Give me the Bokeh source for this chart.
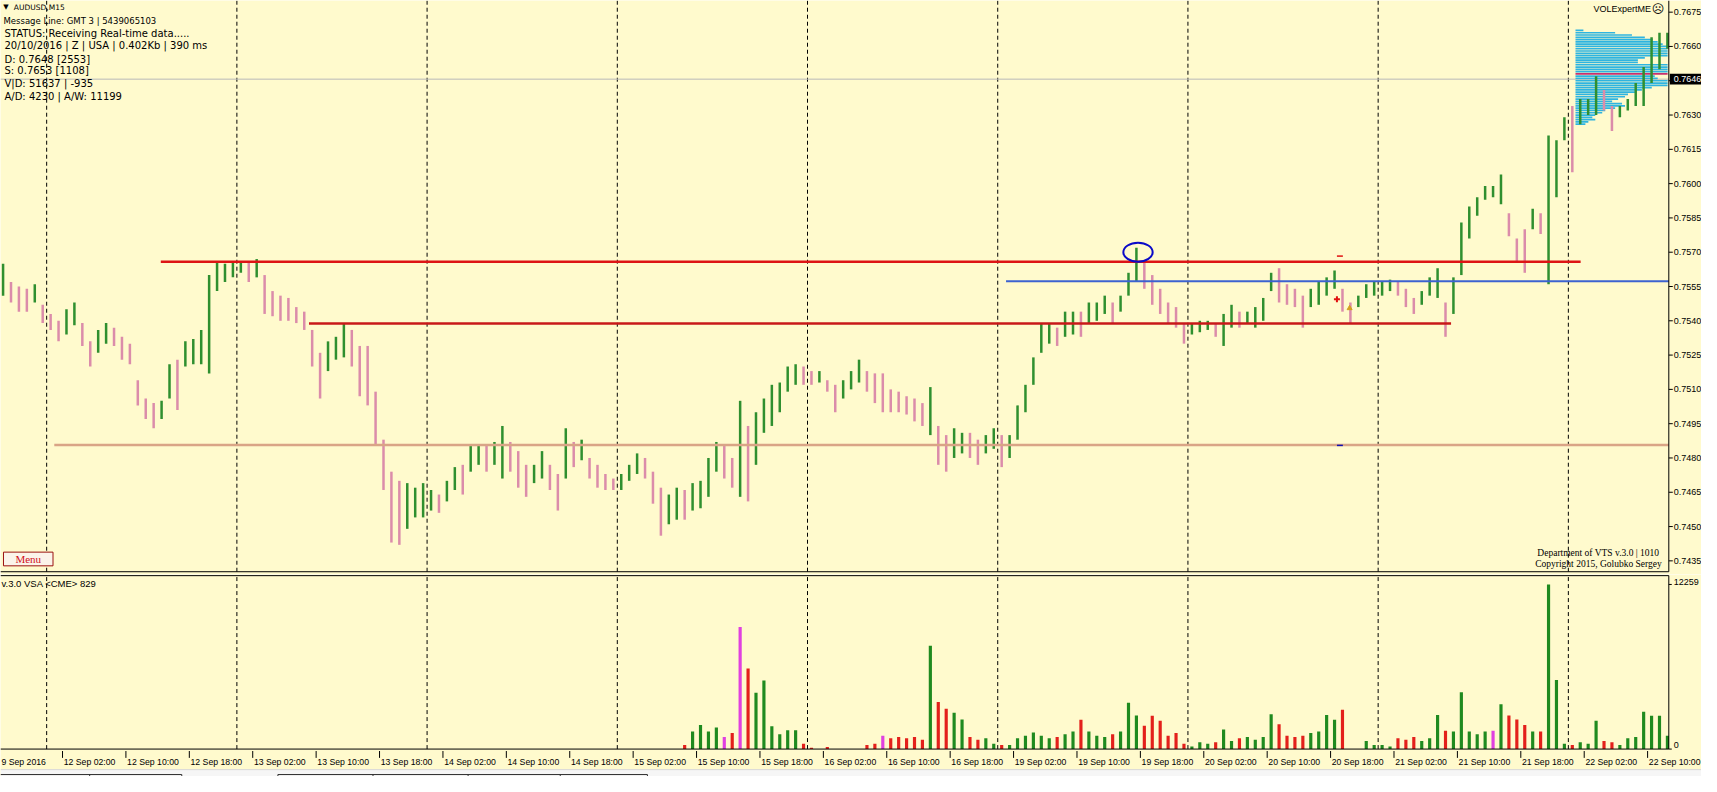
from bokeh.plotting import figure
from bokeh.layouts import column
from bokeh.models import Range1d
from bokeh.embed import file_html
from bokeh.resources import INLINE
from bokeh.core.properties import value

# ---------------- data (AUDUSD M15) ----------------
FIRST_HOUR = -6   # hours from 12 Sep 00:00 (weekend removed)
highs = [0.7565, 0.7557, 0.7555, 0.7554, 0.7556, 0.7547,
         0.7543, 0.7540, 0.7545, 0.7548, 0.7539, 0.7531, 0.7536, 0.7539, 0.7537, 0.7533,
         0.7530, 0.7514, 0.7506, 0.7504, 0.7505, 0.7521, 0.7523, 0.7531, 0.7532, 0.7536,
         0.7560, 0.7566, 0.7565, 0.7566, 0.7566, 0.7566, 0.7567, 0.7560, 0.7553, 0.7551,
         0.7550, 0.7546, 0.7544, 0.7536, 0.7526, 0.7531, 0.7533, 0.7539, 0.7536, 0.7529,
         0.7529, 0.7509, 0.7488, 0.7474, 0.7470, 0.7469, 0.7467, 0.7469, 0.7466, 0.7464,
         0.7470, 0.7476, 0.7477, 0.7486, 0.7486, 0.7486, 0.7487, 0.7494, 0.7487, 0.7483,
         0.7477, 0.7477, 0.7483, 0.7477, 0.7473, 0.7493, 0.7487, 0.7488, 0.7480, 0.7477,
         0.7473, 0.7471, 0.7473, 0.7477, 0.7482, 0.7480, 0.7474, 0.7467, 0.7464, 0.7467,
         0.7466, 0.7469, 0.7470, 0.7480, 0.7487, 0.7486, 0.7480, 0.7505, 0.7494, 0.7500,
         0.7506, 0.7512, 0.7513, 0.7520, 0.7521, 0.7520, 0.7518, 0.7518, 0.7514, 0.7512,
         0.7514, 0.7518, 0.7523, 0.7518, 0.7517, 0.7517, 0.7510, 0.7509, 0.7507, 0.7506,
         0.7504, 0.7511, 0.7494, 0.7490, 0.7493, 0.7491, 0.7491, 0.7488, 0.7490, 0.7493,
         0.7490, 0.7490, 0.7503, 0.7512, 0.7524, 0.7539, 0.7539, 0.7537, 0.7544, 0.7544,
         0.7544, 0.7548, 0.7548, 0.7551, 0.7548, 0.7551, 0.7561, 0.7572, 0.7566, 0.7560,
         0.7554, 0.7548, 0.7546, 0.7539, 0.7539, 0.7540, 0.7540, 0.7539, 0.7543, 0.7547,
         0.7544, 0.7544, 0.7546, 0.7550, 0.7561, 0.7563, 0.7556, 0.7554, 0.7551, 0.7554,
         0.7557, 0.7559, 0.7562, 0.7554, 0.7548, 0.7551, 0.7556, 0.7557, 0.7557, 0.7558,
         0.7557, 0.7554, 0.7550, 0.7553, 0.7559, 0.7563, 0.7548, 0.7559, 0.7583, 0.7590,
         0.7594, 0.7599, 0.7599, 0.7604, 0.7587, 0.7576, 0.7580, 0.7589, 0.7587, 0.7621,
         0.7619, 0.7629, 0.7634, 0.7637, 0.7637, 0.7647, 0.7641, 0.7634, 0.7634, 0.7637,
         0.7644, 0.7651, 0.7664, 0.7666, 0.7666]
lows = [0.7551, 0.7548, 0.7544, 0.7544, 0.7548, 0.7539,
        0.7536, 0.7531, 0.7534, 0.7538, 0.7529, 0.7520, 0.7526, 0.7530, 0.7529, 0.7523,
        0.7521, 0.7503, 0.7497, 0.7493, 0.7497, 0.7506, 0.7501, 0.7520, 0.7521, 0.7521,
        0.7517, 0.7553, 0.7557, 0.7559, 0.7561, 0.7557, 0.7559, 0.7543, 0.7542, 0.7540,
        0.7540, 0.7539, 0.7536, 0.7520, 0.7506, 0.7518, 0.7523, 0.7524, 0.7520, 0.7507,
        0.7503, 0.7486, 0.7466, 0.7443, 0.7442, 0.7449, 0.7454, 0.7454, 0.7457, 0.7456,
        0.7461, 0.7466, 0.7464, 0.7474, 0.7477, 0.7474, 0.7477, 0.7471, 0.7474, 0.7467,
        0.7463, 0.7469, 0.7471, 0.7466, 0.7457, 0.7471, 0.7476, 0.7479, 0.7471, 0.7467,
        0.7466, 0.7466, 0.7466, 0.7470, 0.7473, 0.7471, 0.7460, 0.7446, 0.7451, 0.7453,
        0.7453, 0.7457, 0.7458, 0.7463, 0.7474, 0.7471, 0.7467, 0.7463, 0.7461, 0.7477,
        0.7491, 0.7494, 0.7500, 0.7509, 0.7512, 0.7512, 0.7512, 0.7513, 0.7509, 0.7500,
        0.7506, 0.7510, 0.7513, 0.7509, 0.7504, 0.7500, 0.7500, 0.7500, 0.7499, 0.7496,
        0.7494, 0.7490, 0.7477, 0.7474, 0.7480, 0.7482, 0.7480, 0.7477, 0.7482, 0.7484,
        0.7476, 0.7480, 0.7488, 0.7500, 0.7512, 0.7526, 0.7530, 0.7529, 0.7533, 0.7534,
        0.7533, 0.7539, 0.7540, 0.7543, 0.7539, 0.7544, 0.7551, 0.7557, 0.7554, 0.7547,
        0.7543, 0.7539, 0.7537, 0.7530, 0.7534, 0.7535, 0.7536, 0.7533, 0.7529, 0.7537,
        0.7537, 0.7539, 0.7537, 0.7540, 0.7553, 0.7548, 0.7547, 0.7546, 0.7537, 0.7546,
        0.7547, 0.7551, 0.7554, 0.7544, 0.7539, 0.7546, 0.7550, 0.7551, 0.7551, 0.7553,
        0.7551, 0.7546, 0.7543, 0.7547, 0.7551, 0.7550, 0.7533, 0.7543, 0.7560, 0.7576,
        0.7586, 0.7593, 0.7594, 0.7591, 0.7577, 0.7566, 0.7561, 0.7580, 0.7578, 0.7556,
        0.7594, 0.7619, 0.7605, 0.7626, 0.7630, 0.7630, 0.7632, 0.7623, 0.7629, 0.7632,
        0.7634, 0.7634, 0.7644, 0.7650, 0.7659]

VOL_FIRST_HOUR = 80
volumes = [300, 1300, 1800, 1300, 1600, 900, 1200, 9100, 6000, 4200,
           5100, 1700, 1100, 1400, 1400, 400, 100, 0, 150, 0,
           0, 0, 0, 300, 400, 1000, 800, 900, 800, 900,
           700, 7700, 3500, 3000, 2700, 2200, 900, 700, 800, 400,
           300, 300, 800, 1000, 1240, 1000, 800, 900, 1100, 1300,
           2190, 1300, 1000, 900, 1100, 1300, 3450, 2500, 1730, 2480,
           2110, 1000, 1200, 400, 200, 500, 400, 500, 1460, 600,
           800, 900, 700, 900, 2600, 1850, 1000, 900, 1000, 1200,
           1300, 2540, 2190, 2920, 0, 0, 600, 300, 300, 200,
           800, 700, 900, 600, 800, 2540, 1360, 1300, 4230, 1300,
           1100, 1300, 1360, 3330, 2500, 2200, 1800, 1300, 1300, 12259,
           5140, 400, 300, 500, 400, 2110, 600, 500, 300, 800,
           900, 2780, 2480, 2480, 1000]
magenta_hours = [85, 87, 105, 182]

price_ticks = [0.7435, 0.7450, 0.7465, 0.7480, 0.7495, 0.7510, 0.7525, 0.7540, 0.7555,
               0.7570, 0.7585, 0.7600, 0.7615, 0.7630, 0.7645, 0.7660, 0.7675]
vol_ticks = [0, 12259]
days = ["12 Sep", "13 Sep", "14 Sep", "15 Sep", "16 Sep", "19 Sep", "20 Sep", "21 Sep", "22 Sep"]
label_times = ["02:00", "10:00", "18:00"]
first_label = "9 Sep 2016"

# drawn objects (levels / lines)
level_prices = [0.75658, 0.75388, 0.75573, 0.74857]
level_from = [14.4, 33.1, 121.05, 0.96]
level_to = [193.55, 177.2, 215.0, 215.0]
level_colors = ["#dd1414", "#c81818", "#3c62d0", "#d9a486"]
level_widths = [2.5, 2.5, 1.8, 2.5]
bid_price = 0.76457
bid_text = "0.7646"
circle_hour, circle_price = 137.7, 0.7570

profile_prices = [0.7667, 0.7666, 0.7665, 0.7664, 0.7663, 0.7662, 0.7661, 0.7660, 0.7659, 0.7658,
                  0.7657, 0.7656, 0.7655, 0.7654, 0.7653, 0.7652, 0.7651, 0.7650, 0.7649, 0.7648,
                  0.7647, 0.7646, 0.7645, 0.7644, 0.7643, 0.7642, 0.7641, 0.7640, 0.7639, 0.7638,
                  0.7637, 0.7636, 0.7635, 0.7634, 0.7633, 0.7632, 0.7631, 0.7630, 0.7629, 0.7628,
                  0.7627, 0.7626]
profile_vol = [8, 40, 57, 70, 78, 83, 88, 93, 93, 93,
               93, 93, 70, 63, 63, 93, 93, 93, 93, 93,
               80, 83, 93, 93, 93, 77, 67, 60, 53, 50,
               43, 37, 47, 50, 40, 30, 27, 20, 17, 20,
               13, 10]
profile_poc = 0.7648
profile_start_hour = 192.9

assert len(highs) == len(lows) == 211
assert len(volumes) == 125
assert len(profile_prices) == len(profile_vol)

# ---------------- style / layout helpers ----------------
BG = "#FFFACD"
GREEN = "#2f8f2f"
PINK = "#db8caa"
VGREEN = "#1f8a1f"
VRED = "#e3201b"
VMAG = "#e040e0"
SANS = value("Liberation Sans")
MT = value("DejaVu Sans")
SERIF = value("Liberation Serif")
W = 1701
SY = 776.0 / 792.0
MAIN_H = 574
VOL_H = 776 - MAIN_H
SPLIT = MAIN_H / SY          # reference y where the two windows meet


def hx(px):          # reference x -> hour
    return (px - 46.6) / 8.0


def py(pg):          # reference y -> price (main window)
    return 0.76801 - pg * 0.0015 / 35.0


def vy(pg):          # reference y -> volume (volume window)
    return (764.0 - pg) * 12259.0 / 168.0


AX = hx(1684)        # price-scale edge (right axis line)
xr = Range1d(hx(0), hx(1717))


def base_fig(h, yrange):
    f = figure(width=W, height=h, x_range=xr, y_range=yrange,
               output_backend="svg", toolbar_location=None,
               x_axis_location=None, y_axis_location=None,
               min_border_left=0, min_border_right=0, min_border_top=0, min_border_bottom=0,
               background_fill_color=BG, border_fill_color=BG, outline_line_color=None)
    f.grid.visible = False
    return f


# ---------------- main price window ----------------
p = base_fig(MAIN_H, Range1d(py(SPLIT), py(0)))

# day separators
sep = [24 * k for k in range(len(days))]
p.segment(x0=sep, x1=sep, y0=[py(583)] * len(sep), y1=[py(0)] * len(sep),
          line_color="black", line_dash="4 3", line_width=1)
# bid line
p.segment(x0=[hx(0)], x1=[AX], y0=[bid_price], y1=[bid_price], line_color="#b8b8b8", line_width=1)

# volume profile
x0p = [profile_start_hour] * len(profile_prices)
x1p = [min(profile_start_hour + v / 8.0, AX) for v in profile_vol]
pcol = ["#c8306e" if abs(pp - profile_poc) < 1e-6 else "#2eb4e0" for pp in profile_prices]
p.segment(x0=x0p, y0=profile_prices, x1=x1p, y1=profile_prices, line_color=pcol, line_width=1.7)

# price bars
hours = [FIRST_HOUR + i + 0.5 for i in range(len(highs))]
mids = [(h + l) / 2 for h, l in zip(highs, lows)]
up = [True] + [mids[i] >= mids[i - 1] for i in range(1, len(mids))]
bcol = [GREEN if u else PINK for u in up]
p.segment(x0=hours, y0=lows, x1=hours, y1=highs, line_color=bcol, line_width=2.5)

# levels
p.segment(x0=level_from, y0=level_prices, x1=[min(t, AX) for t in level_to], y1=level_prices,
          line_color=level_colors, line_width=level_widths)

# ellipse around the high
p.ellipse(x=[circle_hour], y=[circle_price], width=3.7, height=0.00083,
          fill_color=None, line_color="#0a0ac8", line_width=2)

# small markers
p.segment(x0=[162.8, 162.8], y0=[0.75683, 0.74855], x1=[163.55, 163.55], y1=[0.75683, 0.74855],
          line_color=["#e01010", "#1010b0"], line_width=1.5)
p.scatter(x=[162.8], y=[0.75494], marker="cross", size=6, line_color="#e01010", line_width=2)
p.scatter(x=[164.4], y=[0.75455], marker="triangle", size=5, fill_color="#d4a020", line_color="#d4a020")

# window border + price scale
p.segment(x0=[hx(0), AX], x1=[AX, AX], y0=[py(583), py(583)], y1=[py(583), py(0)],
          line_color="black", line_width=1)
p.segment(x0=[AX] * len(price_ticks), x1=[hx(1688)] * len(price_ticks), y0=price_ticks, y1=price_ticks,
          line_color="black", line_width=1)
lab_ticks = [t for t in price_ticks if abs(t - bid_price) > 0.0003]
p.text(x=[hx(1689)] * len(lab_ticks), y=lab_ticks, text=[f"{t:.4f}" for t in lab_ticks],
       text_font=SANS, text_font_size="9px", text_baseline="middle", text_align="left",
       text_color="black")
half = 5.5 * 0.0015 / 35.0
p.quad(left=[hx(1685)], right=[hx(1717)], top=[bid_price + half], bottom=[bid_price - half],
       fill_color="black", line_color=None)
p.text(x=[hx(1689)], y=[bid_price], text=[bid_text], text_font=SANS, text_font_size="9px",
       text_baseline="middle", text_align="left", text_color="white")

# texts top-left
p.text(x=[hx(5.5)], y=[py(7)], text=["▼"], text_font=MT, text_font_size="7px",
       text_baseline="middle", text_align="center", text_color="black")
p.text(x=[hx(13.5)], y=[py(7.3)], text=["AUDUSD,M15"], text_font=MT, text_font_size="7.5px",
       text_baseline="middle", text_color="black")
p.text(x=[hx(3)], y=[py(20.7)], text=["Message Line: GMT 3 | 5439065103"], text_font=MT,
       text_font_size="8.5px", text_baseline="middle", text_color="black")
info = ["STATUS: Receiving Real-time data.....",
        "20/10/2016 | Z | USA | 0.402Kb | 390 ms",
        "D: 0.7648  [2553]",
        "S: 0.7653  [1108]",
        "V|D: 51637 | -935",
        "A/D: 4230 | A/W: 11199"]
info_y = [33.3, 46, 60, 71.7, 85, 97.7]
p.text(x=[hx(4)] * len(info), y=[py(v) for v in info_y], text=info, text_font=MT,
       text_font_size="10px", text_baseline="middle", text_color="black")

p.text(x=[hx(1666)], y=[py(8.5)], text=["VOLExpertME"], text_font=SANS, text_font_size="9px",
       text_baseline="middle", text_align="right", text_color="black")
p.text(x=[hx(1673)], y=[py(8.5)], text=["☹"], text_font=MT, text_font_size="12px",
       text_baseline="middle", text_align="center", text_color="black")

p.text(x=[hx(1614), hx(1613)], y=[py(564), py(575)],
       text=["Department of VTS  v.3.0 | 1010", "Copyright 2015, Golubko Sergey"],
       text_font=SERIF, text_font_size="9.5px", text_baseline="middle", text_align="center",
       text_color="black")

# Menu button
p.quad(left=[hx(3)], right=[hx(53)], top=[py(563)], bottom=[py(577)],
       fill_color="#fbf4ea", line_color="#9a1010", line_width=1)
p.text(x=[hx(28)], y=[py(570)], text=["Menu"], text_font=SERIF, text_font_size="11px",
       text_baseline="middle", text_align="center", text_color="#d01020")

# ---------------- volume window ----------------
v = base_fig(VOL_H, Range1d(vy(792), vy(SPLIT)))

v.segment(x0=sep, x1=sep, y0=[0] * len(sep), y1=[vy(587)] * len(sep),
          line_color="black", line_dash="4 3", line_width=1)

vh = [VOL_FIRST_HOUR + i + 0.5 for i in range(len(volumes))]
vcol = []
for i in range(len(volumes)):
    hr = VOL_FIRST_HOUR + i
    if hr in magenta_hours:
        vcol.append(VMAG)
    else:
        vcol.append(VGREEN if up[hr - FIRST_HOUR] else VRED)
v.vbar(x=vh, top=volumes, bottom=0, width=0.4, fill_color=vcol, line_color=None)

# window border, volume scale
v.segment(x0=[hx(0), hx(0), AX], x1=[AX, AX, AX], y0=[vy(587), 0, 0], y1=[vy(587), 0, vy(587)],
          line_color="black", line_width=1)
v.segment(x0=[AX, AX], x1=[hx(1687), hx(1687)], y0=vol_ticks, y1=vol_ticks,
          line_color="black", line_width=1)
v.text(x=[hx(1689), hx(1689)], y=[vy(593), vy(760)], text=[str(vol_ticks[1]), str(vol_ticks[0])],
       text_font=SANS, text_font_size="9px", text_baseline="middle", text_align="left",
       text_color="black")

# time scale: tick marks at the times, labels starting just right of each tick
time_ticks = []
time_texts = []
for k, d in enumerate(days):
    for j, tt in enumerate(label_times):
        h = 24 * k + 2 + 8 * j
        if h <= AX:
            time_ticks.append(h)
            time_texts.append(f"{d} {tt}")
v.segment(x0=time_ticks, x1=time_ticks, y0=[vy(766)] * len(time_ticks), y1=[vy(773)] * len(time_ticks),
          line_color="black", line_width=1)
v.text(x=[t + 0.15 for t in time_ticks] + [hx(1)], y=[vy(777.5)] * (len(time_ticks) + 1),
       text=time_texts + [first_label], text_font=SANS, text_font_size="8.7px",
       text_baseline="middle", text_align="left", text_color="black")

v.text(x=[hx(1)], y=[vy(595)], text=["v.3.0 VSA <CME> 829"], text_font=SANS,
       text_font_size="9.5px", text_baseline="middle", text_color="black")

# terminal tab strip at the very bottom
v.quad(left=[hx(0)], right=[hx(1717)], top=[vy(785)], bottom=[vy(792)],
       fill_color="#f6f6f6", line_color=None)
v.segment(x0=[hx(0)], x1=[hx(1717)], y0=[vy(785)], y1=[vy(785)], line_color="#d8d8d8", line_width=1)
v.segment(x0=[hx(0), hx(280)], x1=[hx(183), hx(653)], y0=[vy(790), vy(790)], y1=[vy(790), vy(790)],
          line_color="#303030", line_width=1)
tabs = [90, 183, 280, 376, 472, 565, 653]
v.segment(x0=[hx(t) for t in tabs], x1=[hx(t) for t in tabs], y0=[vy(790)] * len(tabs),
          y1=[vy(792)] * len(tabs), line_color="#303030", line_width=1)

layout = column(p, v, spacing=0)
open("out.html", "w").write(file_html(layout, INLINE))
